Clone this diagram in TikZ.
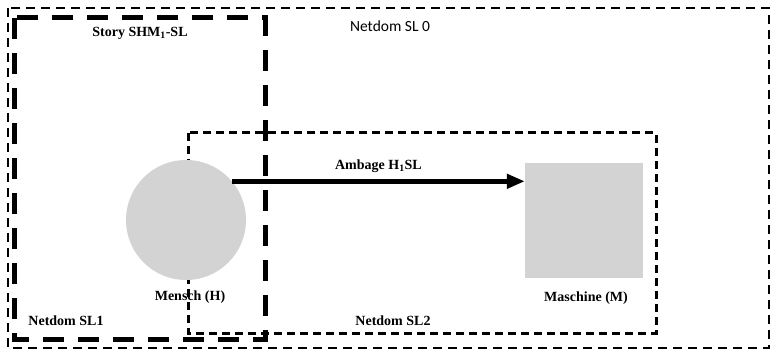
\documentclass[tikz,border=0pt]{standalone}
\usepackage{fontspec}
\setmainfont{Liberation Serif}
\newfontfamily\calibri{Carlito}
\usetikzlibrary{arrows.meta}
\definecolor{shapegray}{RGB}{211,211,211}

\begin{document}
\begin{tikzpicture}[x=1pt,y=-1pt,
  lbl/.style={font=\fontsize{14}{16}\selectfont\bfseries},
  thindash/.style={line width=2.3pt,dash pattern=on 9pt off 6pt},
  thickdash/.style={line width=5pt,dash pattern=on 21pt off 14pt}]
\useasboundingbox (0,0) rectangle (770,352);

% Netdom SL 0
\draw[thindash] (8,8) rectangle (769,348);
\node[font=\fontsize{15.5}{18}\selectfont\calibri] (sl0) at (390,26) {Netdom SL 0};

% Netdom SL2
\draw[line width=3pt,dash pattern=on 8pt off 5pt] (188,133) rectangle (656,333);
\node[lbl] (sl2) at (393,321) {Netdom SL2};

% Story box
\draw[thickdash] (14,18) rectangle (265,339);
\node[lbl] (story) at (140,33) {Story SHM\textsubscript{1}-SL};
\node[lbl] (sl1) at (66,321) {Netdom SL1};

% human and machine
\node[circle,fill=shapegray,minimum size=120pt,inner sep=0] (mensch) at (186,220) {};
\node[lbl] (menschlbl) at (190,297) {Mensch (H)};
\node[fill=shapegray,minimum width=118pt,minimum height=115pt,inner sep=0] (maschine) at (584,220.5) {};
\node[lbl] (maschinelbl) at (586,298) {Maschine (M)};

\draw[line width=5pt,-{Triangle[length=18pt,width=14pt]}] (mensch.40) -- (maschine.west |- mensch.40)
  node[midway,above=3pt,lbl] {Ambage H\textsubscript{1}SL};
\end{tikzpicture}
\end{document}
